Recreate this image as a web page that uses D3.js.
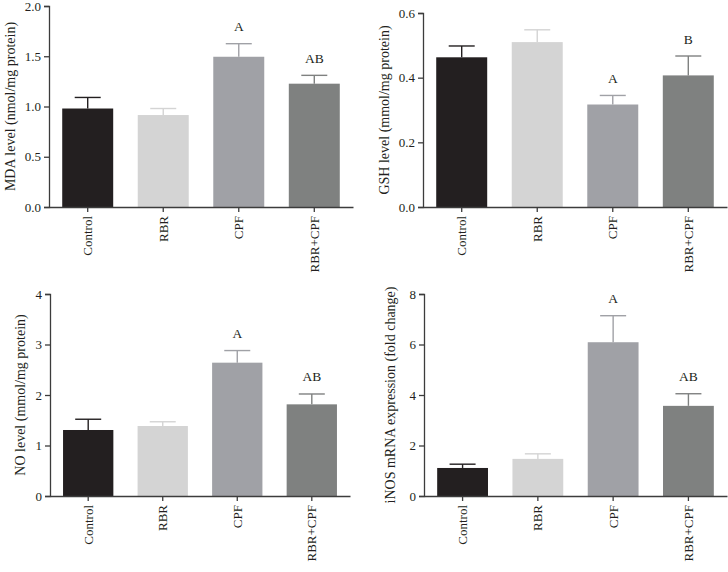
<!DOCTYPE html>
<html><head><meta charset="utf-8">
<script src="https://cdn.jsdelivr.net/npm/d3@7"></script>
<style>body{margin:0;background:#fff}svg{display:block}</style>
</head><body>
<svg id="c" width="728" height="572"></svg>
<script>
const categories = ["Control", "RBR", "CPF", "RBR+CPF"];
const barColors = ["#231f20", "#d4d4d4", "#a0a1a6", "#7f8180"];

const mdaMean = [0.98, 0.915, 1.495, 1.227];
const mdaErr  = [0.11, 0.065, 0.13, 0.083];
const mdaSig  = ["", "", "A", "AB"];
const mdaTicks = [0.0, 0.5, 1.0, 1.5, 2.0];

const gshMean = [0.463, 0.51, 0.317, 0.407];
const gshErr  = [0.035, 0.038, 0.028, 0.06];
const gshSig  = ["", "", "A", "B"];
const gshTicks = [0.0, 0.2, 0.4, 0.6];

const noMean = [1.307, 1.386, 2.64, 1.815];
const noErr  = [0.213, 0.084, 0.24, 0.205];
const noSig  = ["", "", "A", "AB"];
const noTicks = [0, 1, 2, 3, 4];

const inosMean = [1.11, 1.47, 6.09, 3.57];
const inosErr  = [0.15, 0.2, 1.05, 0.48];
const inosSig  = ["", "", "A", "AB"];
const inosTicks = [0, 2, 4, 6, 8];

const panels = [
  {mean: mdaMean, err: mdaErr, sig: mdaSig, ticks: mdaTicks, fmt: d3.format(".1f"),
   title: "MDA level (nmol/mg protein)", x0: 49, x1: 353, y0: 207, y1: 6, tx: 10},
  {mean: gshMean, err: gshErr, sig: gshSig, ticks: gshTicks, fmt: d3.format(".1f"),
   title: "GSH level (mmol/mg protein)", x0: 423, x1: 727, y0: 207, y1: 13, tx: 384},
  {mean: noMean, err: noErr, sig: noSig, ticks: noTicks, fmt: d3.format("d"),
   title: "NO level (mmol/mg protein)", x0: 50, x1: 350, y0: 496, y1: 294, tx: 20},
  {mean: inosMean, err: inosErr, sig: inosSig, ticks: inosTicks, fmt: d3.format("d"),
   title: "iNOS mRNA expression (fold change)", x0: 424, x1: 727, y0: 496, y1: 294, tx: 390}
];

const svg = d3.select("#c");
const FONT = "'Liberation Serif', 'Times New Roman', serif";
const ink = "#231f20";
const axisCol = "#3c3c3c";

panels.forEach(p => {
  const g = svg.append("g");
  const x = d3.scaleBand().domain(categories).range([p.x0, p.x1])
    .paddingInner(0.325).paddingOuter(0.175);
  const dom = p.ticks[p.ticks.length - 1];
  const y = d3.scaleLinear().domain([0, dom]).range([p.y0, p.y1]);

  g.selectAll("rect.bar").data(categories).join("rect")
    .attr("class", "bar")
    .attr("x", d => x(d)).attr("width", x.bandwidth())
    .attr("y", (d, i) => y(p.mean[i]))
    .attr("height", (d, i) => y(0) - y(p.mean[i]))
    .attr("fill", (d, i) => barColors[i]);

  const cap = 26;
  categories.forEach((c, i) => {
    const cx = x(c) + x.bandwidth() / 2;
    const top = y(p.mean[i] + p.err[i]);
    g.append("line").attr("x1", cx).attr("x2", cx)
      .attr("y1", y(p.mean[i])).attr("y2", top)
      .attr("stroke", barColors[i]).attr("stroke-width", 1.4);
    g.append("line").attr("x1", cx - cap / 2).attr("x2", cx + cap / 2)
      .attr("y1", top).attr("y2", top)
      .attr("stroke", barColors[i]).attr("stroke-width", 1.4);
    if (p.sig[i]) {
      g.append("text").attr("x", cx).attr("y", top - 12.5)
        .attr("text-anchor", "middle").attr("font-family", FONT)
        .attr("font-size", 13.5).attr("fill", ink).text(p.sig[i]);
    }
  });

  const ya = g.append("g").attr("transform", `translate(${p.x0},0)`)
    .call(d3.axisLeft(y).tickValues(p.ticks).tickFormat(p.fmt).tickSize(5).tickPadding(3));
  const xa = g.append("g").attr("transform", `translate(0,${p.y0})`)
    .call(d3.axisBottom(x).tickSize(5).tickSizeOuter(0).tickPadding(0));
  xa.selectAll("text")
    .attr("transform", "rotate(-90)")
    .attr("text-anchor", "end")
    .attr("x", -9).attr("y", 0).attr("dy", "0.35em");

  [ya, xa].forEach(a => {
    a.attr("font-family", FONT).attr("font-size", 13);
    a.select(".domain").attr("stroke", axisCol).attr("stroke-width", 1.3);
    a.selectAll(".tick line").attr("stroke", axisCol).attr("stroke-width", 1.3);
    a.selectAll("text").attr("font-family", FONT).attr("font-size", 13).attr("fill", ink);
  });

  g.append("text")
    .attr("transform", `translate(${p.tx},${(p.y0 + p.y1) / 2}) rotate(-90)`)
    .attr("text-anchor", "middle").attr("dy", "0.35em")
    .attr("font-family", FONT).attr("font-size", 14).attr("fill", ink)
    .text(p.title);
});
</script>
</body></html>
